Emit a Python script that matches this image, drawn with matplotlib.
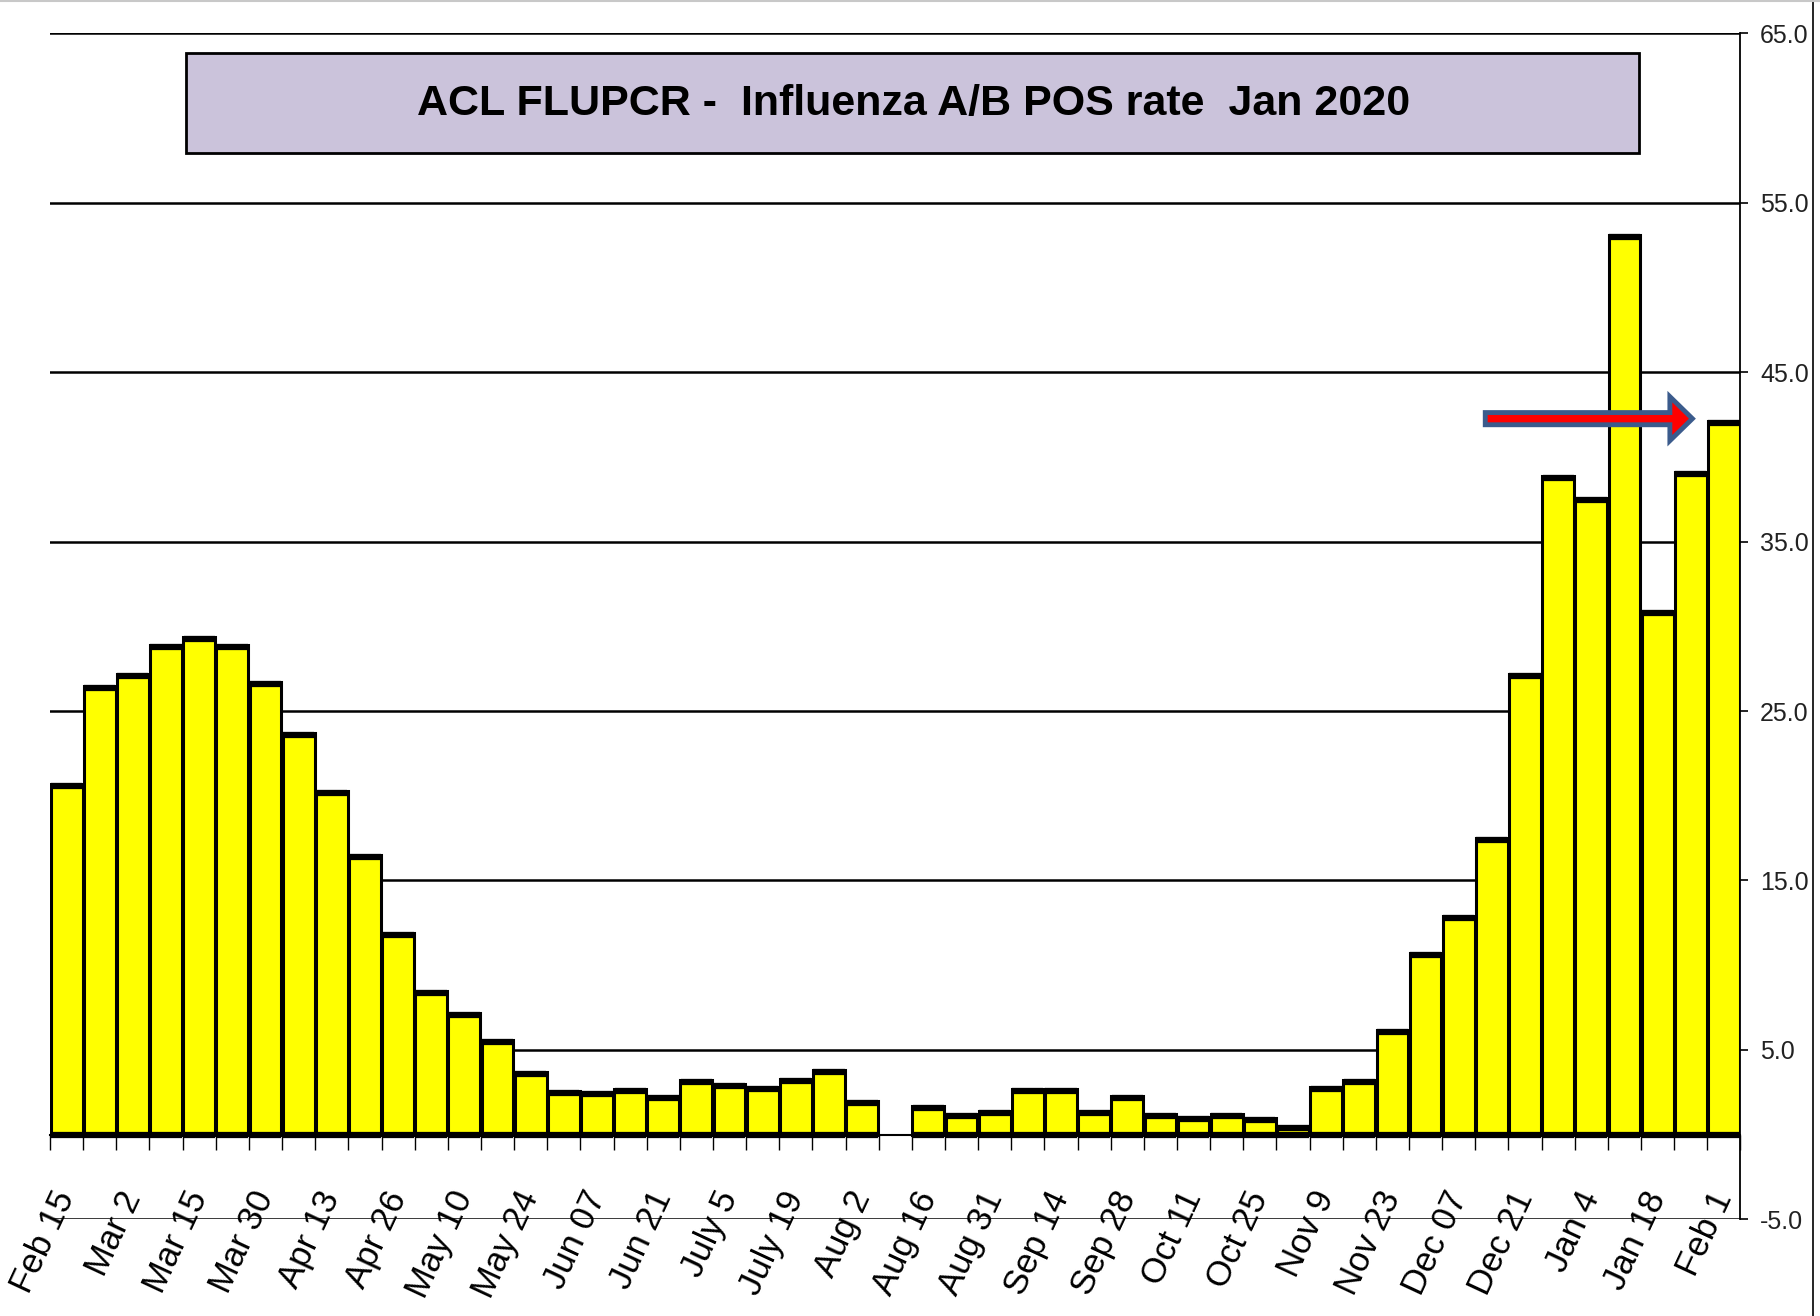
import matplotlib
matplotlib.use("Agg")
import matplotlib.pyplot as plt
import numpy as np
from matplotlib.patches import Rectangle, FancyArrow
from matplotlib.lines import Line2D

# weekly influenza A/B positivity (%), Feb 15 2019 .. Feb 1 2020 (Aug 9 missing)
weeks = ["Feb 15", "Feb 22", "Mar 2", "Mar 8", "Mar 15", "Mar 22", "Mar 30", "Apr 6",
         "Apr 13", "Apr 20", "Apr 26", "May 3", "May 10", "May 17", "May 24", "May 31",
         "Jun 07", "Jun 14", "Jun 21", "Jun 28", "July 5", "July 12", "July 19", "July 26",
         "Aug 2", "Aug 9", "Aug 16", "Aug 24", "Aug 31", "Sep 7", "Sep 14", "Sep 21",
         "Sep 28", "Oct 4", "Oct 11", "Oct 18", "Oct 25", "Nov 2", "Nov 9", "Nov 16",
         "Nov 23", "Nov 30", "Dec 07", "Dec 14", "Dec 21", "Dec 28", "Jan 4", "Jan 11",
         "Jan 18", "Jan 25", "Feb 1"]
pos_rate = [20.7, 26.5, 27.2, 28.9, 29.4, 28.9, 26.7, 23.7, 20.3, 16.5,
            11.9, 8.5, 7.2, 5.6, 3.7, 2.6, 2.5, 2.7, 2.3, 3.2,
            3.0, 2.8, 3.3, 3.8, 2.0, np.nan, 1.7, 1.2, 1.4, 2.7,
            2.7, 1.4, 2.3, 1.2, 1.05, 1.2, 1.0, 0.5, 2.8, 3.2,
            6.2, 10.7, 12.9, 17.5, 27.2, 38.9, 37.6, 53.1, 30.9, 39.1, 42.1]
label_every = 2
y_ticks = [-5, 5, 15, 25, 35, 45, 55, 65]
title = "ACL FLUPCR -  Influenza A/B POS rate  Jan 2020"

x = np.arange(len(weeks))
vals = np.array(pos_rate)
ok = ~np.isnan(vals)

fig = plt.figure(figsize=(18.2, 13.16), dpi=100)
ax = fig.add_axes([0.0275, 0.0735, 0.9288, 0.9011])

# spine moves first: set_position resets the tick objects
for s in ["left", "top"]:
    ax.spines[s].set_visible(False)
ax.spines["bottom"].set_position(("data", 0))
ax.spines["bottom"].set_linewidth(1.5)
ax.spines["right"].set_linewidth(1.3)

ax.bar(x[ok], vals[ok], width=0.96, color="#ffff00", edgecolor="black", linewidth=2.2, zorder=3)
# heavy top / bottom edges of each bar
ax.hlines(vals[ok] - 0.12, x[ok] - 0.47, x[ok] + 0.47, color="black", lw=4.5, zorder=4)
ax.hlines(np.zeros(ok.sum()), x[ok] - 0.48, x[ok] + 0.48, color="black", lw=4.5, zorder=4)

ax.set_xlim(-0.5, len(weeks) - 0.5)
ax.set_ylim(-5, 65)

ax.yaxis.tick_right()
ax.set_yticks(y_ticks)
ax.set_yticklabels([f"{v:.1f}" for v in y_ticks], family="Liberation Sans",
                   fontsize=18, color="#222222")
ax.tick_params(axis="y", direction="out", length=6, width=1.2, pad=8, right=True, left=False)
ax.yaxis.grid(True, color="black", lw=1.8)
ax.set_axisbelow(True)

ax.set_xticks(x[::label_every])
ax.set_xticklabels(weeks[::label_every], rotation=65, ha="right", va="center",
                   rotation_mode="anchor", fontsize=25, family="Liberation Sans")
ax.set_xticks(np.arange(len(weeks) + 1) - 0.5, minor=True)
ax.tick_params(axis="x", which="major", length=0, pad=42)
ax.tick_params(axis="x", which="minor", direction="out", length=11, width=1.0)

# title box
ax.add_patch(Rectangle((3.6, 57.95), 43.85, 5.9, facecolor="#cbc3db", edgecolor="black",
                       lw=2, zorder=2))
ax.text(25.55, 60.85, title, ha="center", va="center", fontsize=31, fontweight="bold",
        family="Liberation Sans", color="black", zorder=5)

# arrow pointing at the latest week
ax.add_patch(FancyArrow(42.8, 42.26, 6.25, 0, width=0.72, head_width=2.6, head_length=0.68,
                        length_includes_head=True, facecolor="#ff0000", edgecolor="#3b5b8c",
                        lw=3.5, zorder=6))

# outer frame pieces
fig.add_artist(Line2D([0.9962, 0.9962], [0, 1], color="black", lw=1.2))
fig.add_artist(Line2D([0, 1], [0.999, 0.999], color="#c8c8c8", lw=1.5))

fig.savefig("out.png", dpi=100)
